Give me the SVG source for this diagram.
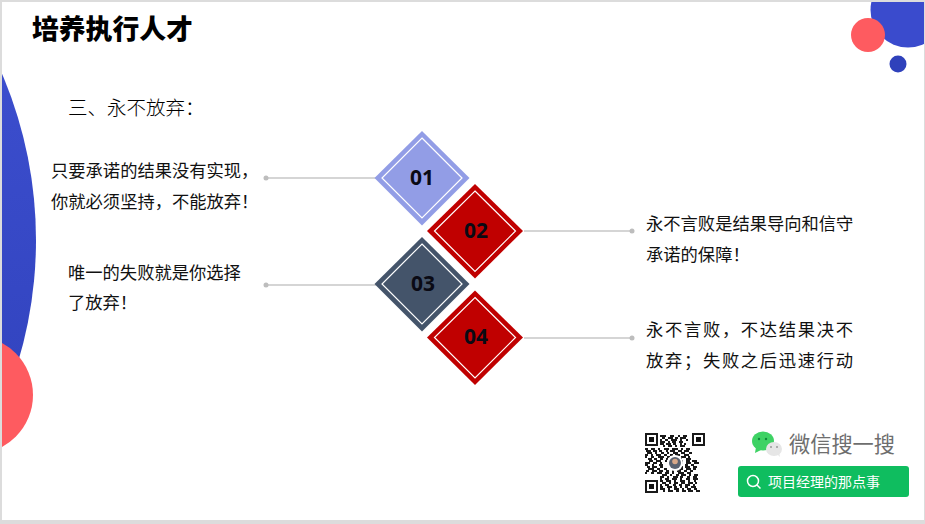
<svg xmlns="http://www.w3.org/2000/svg" width="925" height="524" viewBox="0 0 925 524">
<style>
.t{font-family:"Noto Sans CJK SC","Noto Sans",sans-serif;fill:#111;font-size:17.300px}
.n{font-family:"Noto Sans","Open Sans",sans-serif;font-weight:700;font-size:21px;fill:#0a0a14;text-anchor:middle}
.in{fill:none;stroke:#fff;stroke-width:1.200}
.c{fill:none;stroke:#c8c8c8;stroke-width:1.500}
.d{fill:#bdbdbd}
.q{fill:none;stroke:#1a1a1a;stroke-width:2}
</style>
<defs>
<linearGradient id="bl" x1="0" y1="0" x2="0" y2="1"><stop offset="0" stop-color="#4355d8"/><stop offset="1" stop-color="#2a3cb4"/></linearGradient>
<clipPath id="sl"><rect x="2" y="2" width="922" height="518"/></clipPath>
</defs>
<rect width="925" height="524" fill="#dcdcdc"/>
<rect x="2" y="2" width="922" height="518" fill="#fff"/>
<g clip-path="url(#sl)">
<circle cx="-388" cy="240" r="424" fill="url(#bl)"/>
<circle cx="-26" cy="395" r="59" fill="#fe5b60"/>
<circle cx="908" cy="10" r="37.500" fill="#3a4bcd"/>
<circle cx="868" cy="35" r="17" fill="#fe5b60"/>
<circle cx="898" cy="64" r="8.500" fill="#2f41bb"/>
</g>
<text x="32" y="39" font-family="'Noto Sans CJK SC',sans-serif" font-weight="900" font-size="26.800px" fill="#000">培养执行人才</text>
<text class="t" x="68" y="115" style="font-size:19.500px;font-weight:300;fill:#000">三、永不放弃：</text>
<g id="connectors">
<path class="c" d="M266 178H376M266 285H376M524 231H632M524 338H632"/>
<circle class="d" cx="266" cy="178" r="2.500"/><circle class="d" cx="266" cy="285" r="2.500"/><circle class="d" cx="632" cy="231" r="2.500"/><circle class="d" cx="632" cy="338" r="2.500"/>
</g>
<g id="node-01"><path fill="#929de6" d="M422 131L469.500 178L422 225.500L374.500 178Z"/><path class="in" d="M422 138L462 178L422 218L382 178Z"/><text class="n" x="422" y="185">01</text></g>
<g id="node-02"><path fill="#c00000" d="M475 184L523 231L475 278.500L427 231Z"/><path class="in" d="M475 191L515.500 231L475 271.500L434.500 231Z"/><text class="n" x="476" y="238">02</text></g>
<g id="node-03"><path fill="#44546a" d="M422 237L469.500 284L422 331.500L374.500 284Z"/><path class="in" d="M422 244L462 284L422 324L382 284Z"/><text class="n" x="423" y="291">03</text></g>
<g id="node-04"><path fill="#c00000" d="M475 290.500L523 337.500L475 385L427 337.500Z"/><path class="in" d="M475 297.500L515.500 337.500L475 378L434.500 337.500Z"/><text class="n" x="476" y="344">04</text></g>
<g id="text-left-1"><text class="t" x="51" y="177">只要承诺的结果没有实现，</text><text class="t" x="51" y="208">你就必须坚持，不能放弃！</text></g>
<g id="text-left-2"><text class="t" x="68" y="279">唯一的失败就是你选择</text><text class="t" x="68" y="309">了放弃！</text></g>
<g id="text-right-1"><text class="t" x="646" y="230">永不言败是结果导向和信守</text><text class="t" x="646" y="261">承诺的保障！</text></g>
<g id="text-right-2"><text class="t" x="646" y="336" textLength="207" lengthAdjust="spacing">永不言败，不达结果决不</text><text class="t" x="646" y="367" textLength="207" lengthAdjust="spacing">放弃；失败之后迅速行动</text></g>
<g id="qr">
<path class="q" d="M660 436h6m4 0h4m4 0h2m3 0h4M660 440h2m3 0h3m3 0h6m3 0h2m4 0h2M660 444h4m2 0h5m2 0h3m4 0h2m2 0h2M645 449h3m3 0h4m3 0h2m4 0h5m3 0h6m3 0h2m3 0h4M647 453h5m3 0h2m4 0h3m3 0h2m4 0h5m3 0h4m4 0h3M645 457h2m4 0h3m4 0h6m3 0h3m5 0h3m3 0h5m2 0h2M649 461h4m3 0h5m4 0h2m12 0h4m3 0h4m2 0h5M645 465h3m4 0h2m5 0h4m15 0h3m4 0h3m3 0h3M648 469h6m3 0h3m4 0h3m11 0h5m3 0h5m2 0h3M645 473h2m4 0h3m3 0h5m3 0h4m3 0h2m4 0h6m3 0h4M660 477h4m3 0h2m4 0h5m2 0h3m4 0h3m3 0h4M660 481h3m3 0h5m3 0h2m4 0h5m3 0h2m4 0h2M660 485h2m3 0h4m4 0h3m3 0h3m3 0h5m3 0h2M660 489h5m3 0h2m4 0h5m3 0h2m3 0h4m3 0h3"/>
<path class="q" d="M662 438h3m3 0h5m2 0h3m2 0h6M660 442h5m3 0h2m2 0h4m3 0h4M663 446h2m3 0h4m3 0h2m3 0h5M646 451h5m2 0h4m2 0h3m4 0h2m2 0h5m3 0h4m2 0h5M645 455h3m3 0h2m3 0h5m3 0h3m3 0h3m2 0h5m4 0h5M648 459h4m2 0h3m3 0h3m3 0h2m2 0h5m3 0h4m4 0h5M645 463h5m3 0h4m3 0h2m19 0h2m3 0h5m3 0h5M647 467h3m2 0h5m3 0h3m16 0h4m2 0h5m3 0h4M646 471h3m3 0h5m2 0h4m3 0h3m3 0h2m3 0h4m3 0h3m3 0h3M662 475h5m3 0h2m4 0h3m2 0h5m3 0h2m3 0h4M660 479h2m3 0h4m3 0h5m3 0h2m4 0h4m3 0h5M662 483h4m3 0h2m3 0h4m3 0h4m3 0h5m2 0h2M660 487h3m4 0h5m2 0h3m3 0h2m3 0h3m3 0h5M663 491h2m3 0h5m3 0h3m3 0h4m2 0h5m3 0h4"/>
<path class="q" d="M646 434h11v11h-11zM693 434h11v11h-11zM646 481h11v11h-11z"/>
<path fill="#111" d="M649 437h5v5h-5zM696 437h5v5h-5zM649 484h5v5h-5z"/>
<circle cx="675" cy="463" r="8" fill="#fff"/><circle cx="675" cy="463" r="6" fill="#5a6270"/><circle cx="675" cy="461.500" r="2.800" fill="#d8a888"/>
</g>
<g id="wechat">
<ellipse cx="763" cy="441" rx="11" ry="9.500" fill="#3ed264"/><path fill="#3ed264" d="M756 447l-1 6 6-3z"/>
<circle cx="759" cy="439" r="1.200" fill="#0f8a3a"/><circle cx="766" cy="439" r="1.200" fill="#0f8a3a"/>
<ellipse cx="774" cy="449" rx="8" ry="7" fill="#e6e6e6"/><path fill="#e6e6e6" d="M777 454l3 3-1-5z"/>
<circle cx="771" cy="447" r="1" fill="#999"/><circle cx="777" cy="447" r="1" fill="#999"/>
<text x="789" y="452" font-family="'Noto Sans CJK SC',sans-serif" font-size="21.200px" fill="#6e6e6e">微信搜一搜</text>
</g>
<g id="search">
<rect x="738" y="466" width="171" height="31" rx="3" fill="#0fbd5f"/>
<circle cx="753" cy="481" r="5.500" fill="none" stroke="#fff" stroke-width="1.500"/><path d="M757 485l3.500 3.500" stroke="#fff" stroke-width="1.500"/>
<text x="768" y="486.500" font-family="'Noto Sans CJK SC',sans-serif" font-size="14px" fill="#fff">项目经理的那点事</text>
</g>
</svg>
